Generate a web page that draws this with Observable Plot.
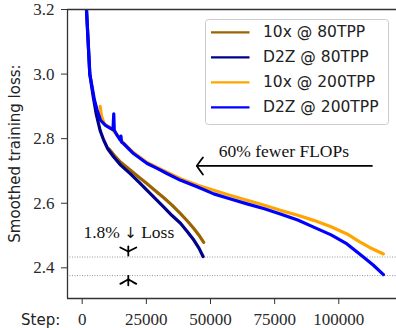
<!DOCTYPE html>
<html><head><meta charset="utf-8">
<script src="https://cdn.jsdelivr.net/npm/d3@7"></script>
<script src="https://cdn.jsdelivr.net/npm/@observablehq/plot@0.6"></script>
<style>
body{margin:0;background:#fff;}
#wrap{position:relative;width:396px;height:328px;overflow:hidden;}
</style></head><body><div id="wrap"></div>
<script>
// ---- data ----
const seriesNames = ["10x @ 80TPP", "D2Z @ 80TPP", "10x @ 200TPP", "D2Z @ 200TPP"];
const seriesColors = ["#9a6400", "#00008b", "#ffa500", "#0000ff"];

const steps10x80 = [10500,12300,15000,18800,22000,25300,28500,31800,35000,38300,41000,43500,45500,47350];
const loss10x80  = [2.768,2.750,2.727,2.702,2.681,2.660,2.639,2.617,2.594,2.568,2.545,2.522,2.501,2.479];

const stepsD2Z80 = [1670,2960,4300,5500,7000,8400,10000,12300,15000,18800,22000,25300,28500,31800,35000,38300,41000,43500,45500,47100];
const lossD2Z80  = [3.2,3.0,2.93,2.875,2.825,2.795,2.768,2.743,2.718,2.691,2.666,2.640,2.614,2.588,2.562,2.538,2.512,2.486,2.461,2.435];

const steps10x200 = [7000,7500,8500,9070,11020,13630,16080,19980,25300,29200,33000,38360,45000,51250,57500,64250,71000,77200,84000,90200,97000,103200,108000,112000,117400];
const loss10x200  = [2.900,2.870,2.848,2.843,2.834,2.812,2.787,2.757,2.726,2.711,2.696,2.676,2.656,2.640,2.625,2.609,2.594,2.578,2.563,2.547,2.527,2.505,2.481,2.463,2.443];

const stepsD2Z200 = [1670,2960,4790,5840,7130,9070,11020,12000,12300,12500,13630,14900,15100,15300,16080,19980,25300,29200,33000,38360,45000,51250,57500,64250,71000,77200,84000,90200,97000,103200,109700,113500,117400];
const lossD2Z200  = [3.2,3.0,2.919,2.888,2.857,2.841,2.832,2.828,2.877,2.826,2.810,2.795,2.808,2.790,2.785,2.754,2.723,2.708,2.692,2.671,2.650,2.629,2.614,2.598,2.583,2.567,2.548,2.526,2.502,2.474,2.433,2.408,2.379];

const yTicks = [2.4, 2.6, 2.8, 3.0, 3.2];
const xTicks = [0, 25000, 50000, 75000, 100000];
const dottedLevels = [2.4335, 2.376];

const seriesSteps = [steps10x80, stepsD2Z80, steps10x200, stepsD2Z200];
const seriesLoss = [loss10x80, lossD2Z80, loss10x200, lossD2Z200];

const tables = seriesNames.map((name, k) =>
  seriesSteps[k].map((s, i) => ({series: name, step: s, loss: seriesLoss[k][i]})));

const X_DOMAIN = [-5730, 122490];
const Y_DOMAIN = [2.305, 3.2];
const SERIF = "'Liberation Serif', 'DejaVu Serif', serif";
const SANS = "'DejaVu Sans', sans-serif";

const plot = Plot.plot({
  width: 396, height: 328,
  marginLeft: 67, marginRight: 0, marginTop: 9, marginBottom: 30,
  x: {domain: X_DOMAIN},
  y: {domain: Y_DOMAIN},
  color: {domain: seriesNames, range: seriesColors},
  style: {fontFamily: SERIF, fontSize: "17px", color: "#1a1a1a", background: "white"},
  marks: [
    Plot.ruleY(dottedLevels, {stroke: "#8a8a8a", strokeWidth: 0.9, strokeDasharray: "1,1.5"}),
    ...tables.map(t => Plot.line(t, {x: "step", y: "loss", stroke: "series", strokeWidth: 3.2, strokeLinejoin: "round", clip: true})),
    Plot.ruleX([X_DOMAIN[0]], {stroke: "#333", strokeWidth: 1.3}),
    Plot.ruleY([Y_DOMAIN[0]], {stroke: "#333", strokeWidth: 1.3}),
    Plot.ruleY([Y_DOMAIN[1]], {stroke: "#333", strokeWidth: 1.3}),
    Plot.axisY(yTicks, {tickFormat: d => d.toFixed(1), tickSize: 6, tickPadding: 7, label: null, fontSize: 17, stroke: "#333", fill: "#2a2a2a"}),
    Plot.axisX(xTicks, {tickFormat: d => String(d), tickSize: 6, tickPadding: 8, label: null, fontSize: 17, stroke: "#333", fill: "#2a2a2a"}),
    Plot.text(["60% fewer FLOPs"], {x: 78600, y: 2.760, text: d => d, fontSize: 17.5, textAnchor: "middle", fill: "#111"}),
    Plot.text(["1.8% \u2193 Loss"], {x: 18160, y: 2.511, text: d => d, fontSize: 17.5, textAnchor: "middle", fill: "#111", ariaLabel: "loss-note"})
  ]
});

document.getElementById("wrap").appendChild(plot);

const sx = plot.scale("x"), sy = plot.scale("y");
const svg = d3.select(plot);
svg.selectAll("g, text").style("font-family", SERIF);

// render the arrow glyph of the note with a plain text font (avoid emoji fallback)
svg.selectAll("text").each(function() {
  const t = d3.select(this);
  const s = t.text();
  if (s.includes("\u2193")) {
    const parts = s.split("\u2193");
    t.text(null);
    t.append("tspan").text(parts[0]);
    t.append("tspan").style("font-family", "'DejaVu Sans'").style("font-size", "15px").attr("fill", "#111").text("\u2193");
    t.append("tspan").text(parts[1]);
  }
});

// y label
svg.append("text")
  .attr("transform", `translate(15,${(9 + 298) / 2}) rotate(-90)`)
  .attr("text-anchor", "middle").attr("dominant-baseline", "central")
  .style("font-family", SANS).style("font-size", "15px").attr("fill", "#222")
  .text("Smoothed training loss:");
// x label
svg.append("text")
  .attr("x", 21).attr("y", 325).attr("text-anchor", "start")
  .style("font-family", SANS).style("font-size", "15px").attr("fill", "#222")
  .text("Step:");

// arrows (positions via Plot scales)
const g = svg.append("g").attr("fill", "none").attr("stroke", "#000").attr("stroke-width", 1.8).attr("stroke-linecap", "round");
{
  const tx = sx.apply(44900), ty = sy.apply(2.714), ex = sx.apply(113100);
  g.append("path").attr("d", `M${ex},${ty}L${tx},${ty}`);
  g.append("path").attr("d", `M${tx + 6},${ty - 8.5}Q${tx + 1},${ty - 2} ${tx},${ty}Q${tx + 1},${ty + 2} ${tx + 6},${ty + 8.5}`);
}
{
  const cx = sx.apply(18160);
  const t1 = sy.apply(dottedLevels[0]) - 1;
  const j1 = t1 - 4;
  g.append("path").attr("d", `M${cx},${t1 - 9}L${cx},${t1}`);
  g.append("path").attr("d", `M${cx - 8},${j1 - 4}Q${cx - 2},${j1 - 1} ${cx},${j1}Q${cx + 2},${j1 - 1} ${cx + 8},${j1 - 4}`);
  const t2 = sy.apply(dottedLevels[1]) + 0.8;
  const j2 = t2 + 3.5;
  g.append("path").attr("d", `M${cx},${t2 + 9.5}L${cx},${t2}`);
  g.append("path").attr("d", `M${cx - 8},${j2 + 4.5}Q${cx - 2},${j2 + 1} ${cx},${j2}Q${cx + 2},${j2 + 1} ${cx + 8},${j2 + 4.5}`);
}

// legend
const lg = svg.append("g");
lg.append("rect").attr("x", 205.5).attr("y", 19.5).attr("width", 183).attr("height", 105)
  .attr("rx", 3).attr("fill", "rgba(255,255,255,0.85)").attr("stroke", "#cccccc").attr("stroke-width", 1);
seriesNames.forEach((name, i) => {
  const y = 32.3 + i * 25;
  lg.append("line").attr("x1", 211).attr("x2", 249.5).attr("y1", y).attr("y2", y)
    .attr("stroke", seriesColors[i]).attr("stroke-width", 2.2);
  lg.append("text").attr("x", 263).attr("y", y).attr("text-anchor", "start").attr("dominant-baseline", "central")
    .style("font-family", SANS).style("font-size", "15.5px").attr("fill", "#222").text(name);
});
</script>
</body></html>
